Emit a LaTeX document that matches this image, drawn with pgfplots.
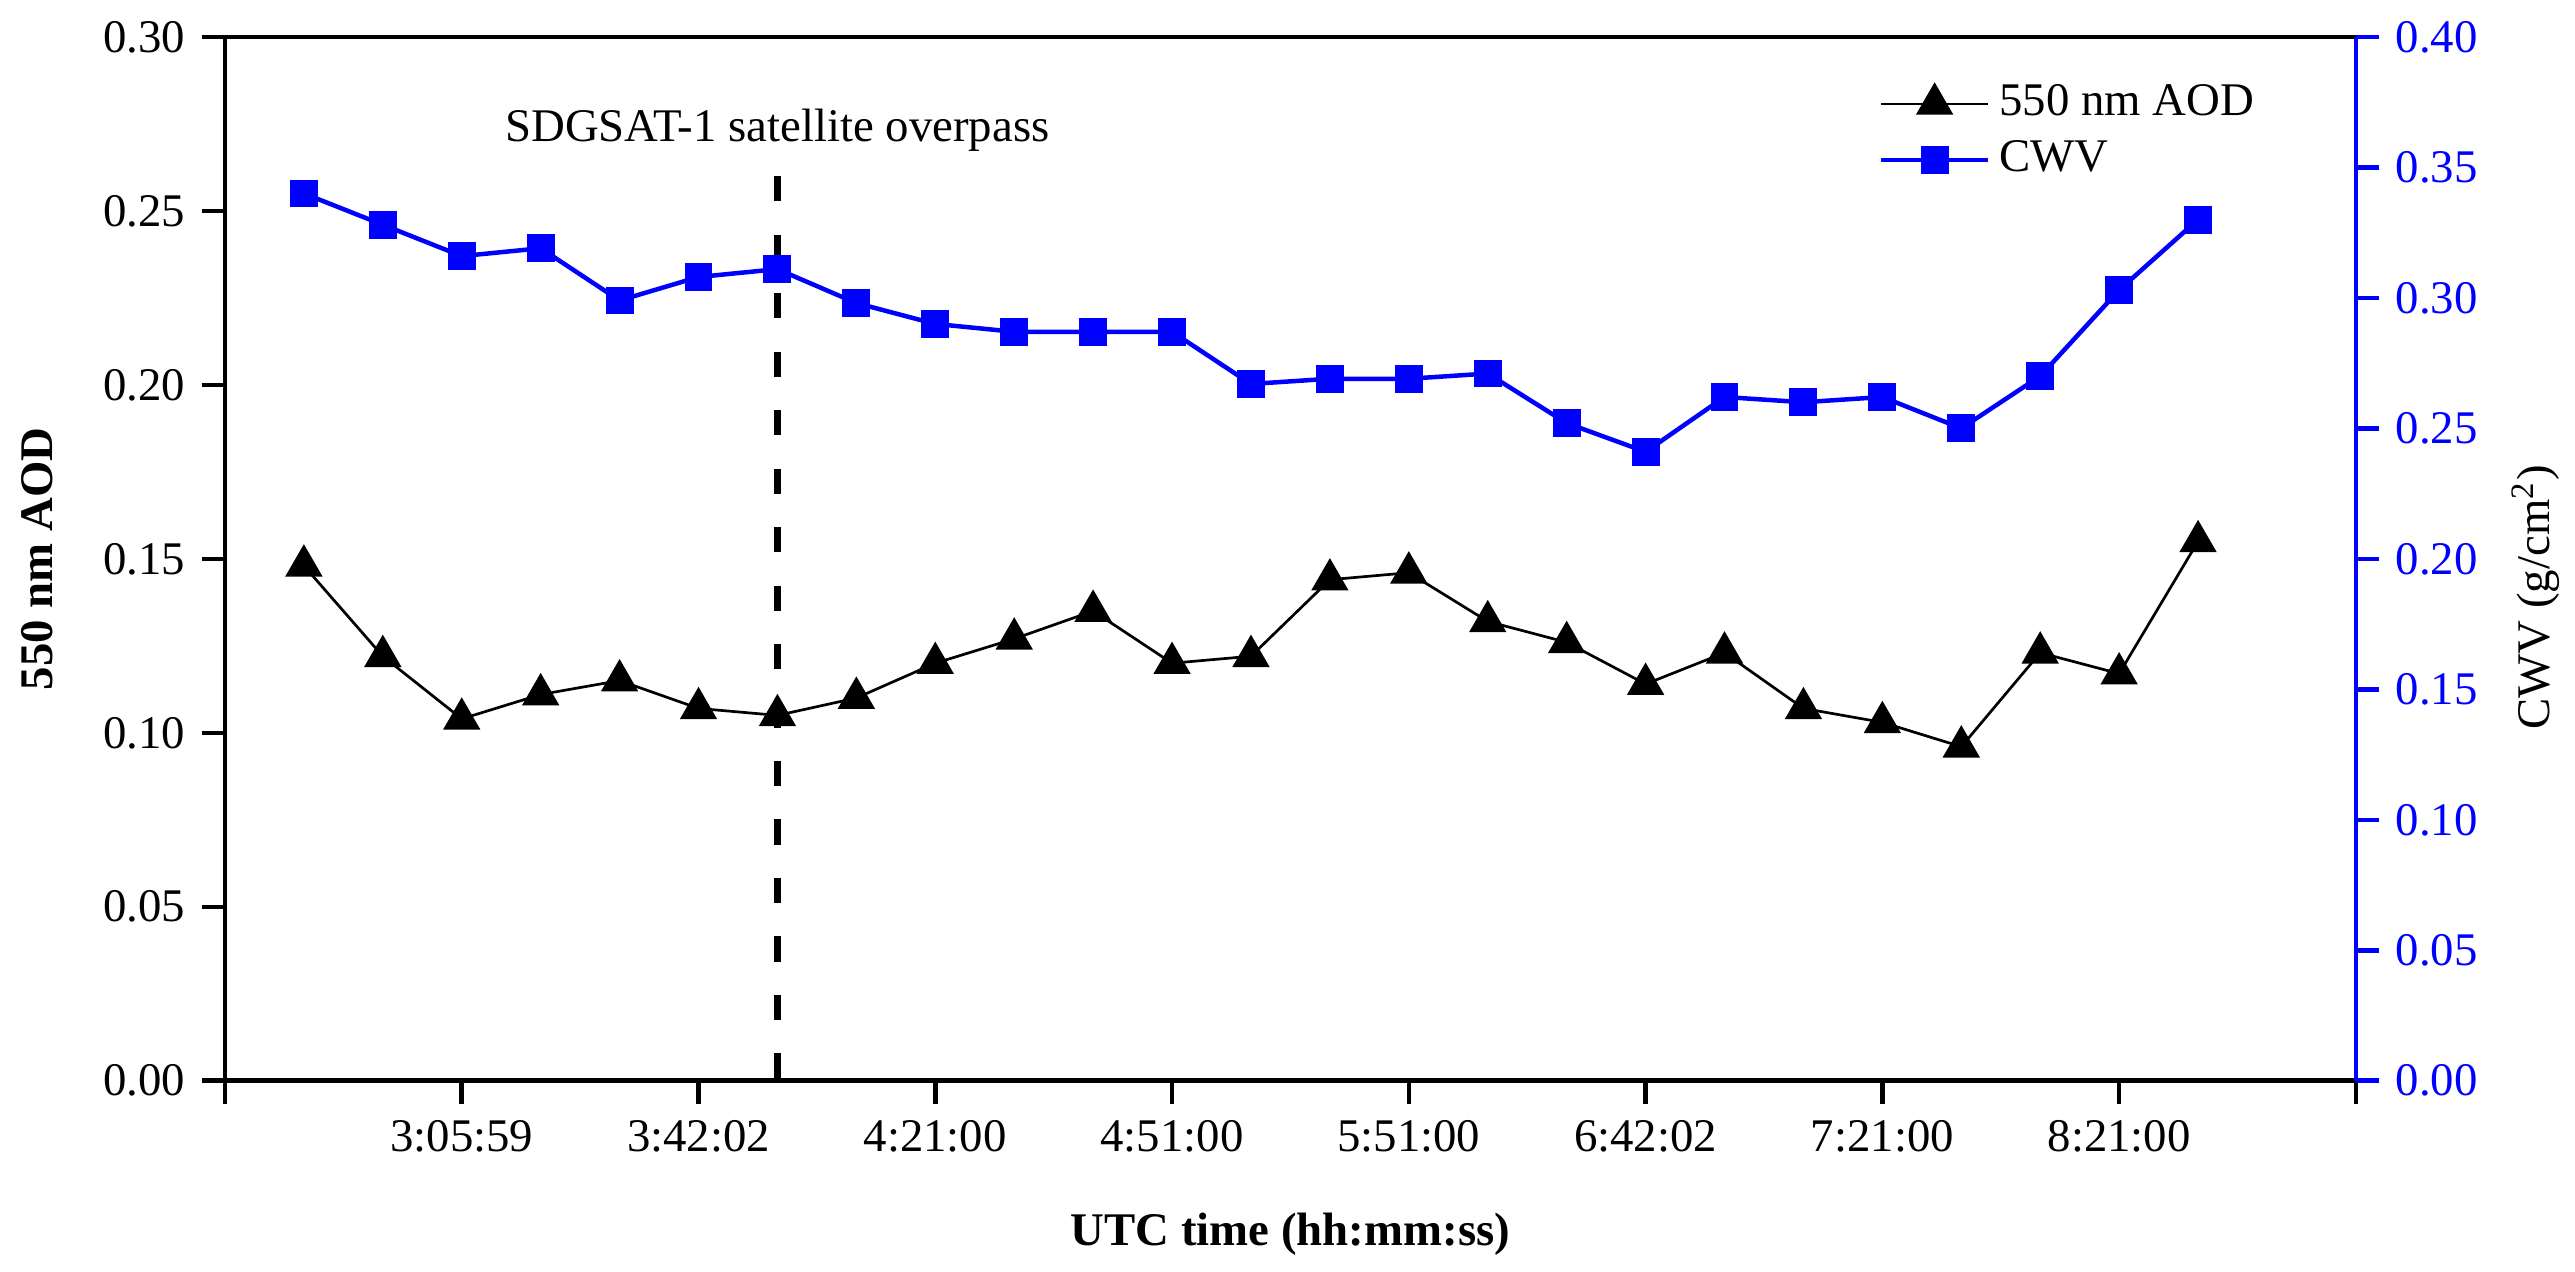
\documentclass[border=0pt]{standalone}
\usepackage{fontspec}
\setmainfont{Liberation Serif}
\usepackage{pgfplots}
\usepackage{pgfplotstable}
\pgfplotsset{compat=1.18}

% index, 550 nm AOD (left axis), CWV in g/cm^2 (right axis)
\pgfplotstableread{
x  aod    cwv
1  0.148  0.340
2  0.122  0.328
3  0.104  0.316
4  0.111  0.319
5  0.115  0.299
6  0.107  0.308
7  0.105  0.311
8  0.110  0.298
9  0.120  0.290
10 0.127  0.287
11 0.135  0.287
12 0.120  0.287
13 0.122  0.267
14 0.144  0.269
15 0.146  0.269
16 0.132  0.271
17 0.126  0.252
18 0.114  0.241
19 0.123  0.262
20 0.107  0.260
21 0.103  0.262
22 0.096  0.250
23 0.123  0.270
24 0.117  0.303
25 0.155  0.330
}\datatable

\pgfplotsset{
  twin/.style={
    scale only axis, width=473.6pt, height=232pt,
    xmin=0, xmax=27,
    tick align=outside,
    major tick length=5.2pt,
    minor tick num=0,
    yticklabel style={/pgf/number format/fixed, /pgf/number format/fixed zerofill,
        /pgf/number format/precision=2, /pgf/number format/assume math mode=true},
  },
}

\begin{document}
\fontsize{10.4pt}{12.5pt}\selectfont
\begin{tikzpicture}
\begin{axis}[
    twin,
    ymin=0, ymax=0.3,
    axis line style={line width=1pt},
    every tick/.style={black, line width=1pt},
    xtick pos=bottom, ytick pos=left,
    xtick={0,3,...,27},
    xticklabels={,3:05:59,3:42:02,4:21:00,4:51:00,5:51:00,6:42:02,7:21:00,8:21:00,},
    ytick={0,0.05,0.1,0.15,0.2,0.25,0.3},
    xlabel={\textbf{UTC time (hh:mm:ss)}},
    xlabel style={at={(axis description cs:0.5,-0.1583)}, anchor=base},
    ylabel={\textbf{550 nm AOD}},
    ylabel style={at={(axis description cs:-0.0807,0.5)}, anchor=base},
]
\coordinate (sw) at (rel axis cs:0,0);
\coordinate (ne) at (rel axis cs:1,1);
\addplot[black, line width=1.5pt, dash pattern=on 5.6pt off 7.4pt, forget plot]
    coordinates {(7,0.260) (7,0)};
\node[anchor=base] at (axis cs:7,0.270) {SDGSAT-1 satellite overpass};
\addplot[black, line width=0.6pt, mark=triangle*, mark size=4.2pt, mark options={solid}]
    table[x=x, y=aod] {\datatable};
\end{axis}

\begin{axis}[
    twin,
    ymin=0, ymax=0.4,
    axis x line=none, axis y line*=right,
    y axis line style={blue, line width=1pt},
    ytick style={blue, line width=1pt},
    ytick={0,0.05,0.1,0.15,0.2,0.25,0.3,0.35,0.4},
    yticklabel style={text=blue},
    ylabel={CWV (g/cm\textsuperscript{2})},
    ylabel style={at={(axis description cs:1.091,0.463)}, anchor=base, black},
    legend style={draw=none, fill=none, at={(axis description cs:0.7757,0.909)},
        anchor=west, inner sep=0pt, row sep=0pt},
    legend cell align=left,
    legend image code/.code={
        \draw[mark repeat=2, mark phase=2, #1]
            plot coordinates {(0pt,0pt) (11.9pt,0pt) (23.8pt,0pt)};
    },
]
\addlegendimage{black, line width=0.6pt, mark=triangle*, mark size=4.2pt, mark options={solid}}
\addlegendentry{550 nm AOD}
\addplot[blue, line width=1pt, mark=square*, mark size=2.6pt, mark options={solid}]
    table[x=x, y=cwv] {\datatable};
\addlegendentry{CWV}
\end{axis}

\pgfresetboundingbox
\path[use as bounding box] ([xshift=-50pt, yshift=-42.4pt]sw) rectangle ([xshift=48.7pt, yshift=8.2pt]ne);
\end{tikzpicture}
\end{document}
